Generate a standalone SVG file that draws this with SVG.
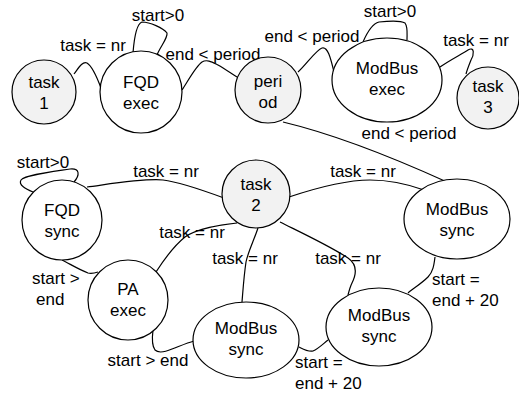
<svg xmlns="http://www.w3.org/2000/svg" width="519" height="396" viewBox="0 0 519 396">
<style>
  .n { stroke: #000; stroke-width: 1.2; fill: #fff; }
  .g { fill: #f2f2f2; }
  .e { fill: none; stroke: #000; stroke-width: 1.2; }
  text { font-family: "Liberation Sans", Arial, Helvetica, sans-serif; font-size: 17px; fill: #000; }
  .c { text-anchor: middle; }
</style>
<rect width="519" height="396" fill="#fff"/>
<g id="connectors">
  <path class="e" d="M74,74 C78,69 82,61 87,63 C92,66 98,80 101,88"/>
  <path class="e" d="M133,53 C134,40 136,24 142,22 C150,22 163,28 167,33 C168,38 160,47 157,55"/>
  <path class="e" d="M182,90 C188,81 196,66 202,62 C207,59 212,62 218,65 C225,69 232,74 237,77"/>
  <path class="e" d="M298,72 C306,65 316,50 322,48 C328,46 331,60 334,72"/>
  <path class="e" d="M363,42 C366,35 371,24 379,22 C388,21 400,20 405,23 C408,27 407,33 407,40"/>
  <path class="e" d="M440,67 C450,60 462,54 468,50 C475,46 474,55 471,60 C469,65 467,70 466,74"/>
  <path class="e" d="M283,122 Q350,138 447,182"/>
  <path class="e" d="M33,192 C26,189 18,185 21,180 C25,175 50,172 70,169 C80,168 80,175 74,182"/>
  <path class="e" d="M87,187 C110,184 145,178 163,180 C180,182 205,191 224,198"/>
  <path class="e" d="M289,197 C310,190 345,180 370,180 C390,180 410,185 424,190"/>
  <path class="e" d="M156,272 C165,258 175,245 185,237 C198,228 220,225 237,223"/>
  <path class="e" d="M258,228 C254,240 248,252 246,262 C244,275 243,290 242,302"/>
  <path class="e" d="M280,222 C300,232 330,246 348,258 C358,265 356,275 352,283 C350,287 349,291 348,295"/>
  <path class="e" d="M435,257 C434,265 433,272 428,277 C422,283 414,288 408,293"/>
  <path class="e" d="M62,260 C70,264 80,270 88,273 C92,274 95,273 98,272"/>
  <path class="e" d="M153,330 C152,338 152,346 155,350 C158,353 165,352 172,349 C180,346 187,343 194,341"/>
  <path class="e" d="M299,347 C303,349 308,352 313,351 C318,349 323,344 328,340"/>
  <text class="c" x="93" y="51">task = nr</text>
  <text class="c" x="158" y="21">start&gt;0</text>
  <text class="c" x="213" y="60">end &lt; period</text>
  <text class="c" x="312" y="42">end &lt; period</text>
  <text class="c" x="390" y="17">start&gt;0</text>
  <text class="c" x="476" y="46">task = nr</text>
  <text class="c" x="409" y="139">end &lt; period</text>
  <text class="c" x="43" y="168">start&gt;0</text>
  <text class="c" x="166" y="177">task = nr</text>
  <text class="c" x="363" y="177">task = nr</text>
  <text class="c" x="192" y="238">task = nr</text>
  <text class="c" x="245" y="264">task = nr</text>
  <text class="c" x="348" y="264">task = nr</text>
  <text x="432" y="285">start =</text>
  <text x="432" y="306">end + 20</text>
  <text x="32" y="284">start &gt;</text>
  <text x="36" y="305">end</text>
  <text class="c" x="148" y="366">start &gt; end</text>
  <text x="295" y="368">start =</text>
  <text x="295" y="389">end + 20</text>
</g>
<g id="task1">
  <circle class="n g" cx="44" cy="92" r="32"/>
  <text class="c" x="44" y="88">task</text>
  <text class="c" x="44" y="109">1</text>
</g>
<g id="fqd-exec">
  <circle class="n" cx="141" cy="92" r="41"/>
  <text class="c" x="141" y="88">FQD</text>
  <text class="c" x="141" y="109">exec</text>
</g>
<g id="period">
  <circle class="n g" cx="268" cy="90" r="33"/>
  <text class="c" x="268" y="87">peri</text>
  <text class="c" x="268" y="108">od</text>
</g>
<g id="modbus-exec">
  <ellipse class="n" cx="387" cy="80" rx="55" ry="42"/>
  <text class="c" x="387" y="74">ModBus</text>
  <text class="c" x="387" y="95">exec</text>
</g>
<g id="task3">
  <circle class="n g" cx="488" cy="98" r="31"/>
  <text class="c" x="488" y="92">task</text>
  <text class="c" x="488" y="113">3</text>
</g>
<g id="fqd-sync">
  <circle class="n" cx="62" cy="220" r="40"/>
  <text class="c" x="62" y="216">FQD</text>
  <text class="c" x="62" y="237">sync</text>
</g>
<g id="task2">
  <circle class="n g" cx="256" cy="194" r="34"/>
  <text class="c" x="256" y="190">task</text>
  <text class="c" x="256" y="211">2</text>
</g>
<g id="modbus-sync-1">
  <ellipse class="n" cx="457" cy="219" rx="53" ry="40"/>
  <text class="c" x="457" y="215">ModBus</text>
  <text class="c" x="457" y="236">sync</text>
</g>
<g id="pa-exec">
  <circle class="n" cx="128" cy="300" r="40"/>
  <text class="c" x="128" y="295">PA</text>
  <text class="c" x="128" y="316">exec</text>
</g>
<g id="modbus-sync-2">
  <ellipse class="n" cx="246" cy="340" rx="53" ry="38"/>
  <text class="c" x="246" y="334">ModBus</text>
  <text class="c" x="246" y="355">sync</text>
</g>
<g id="modbus-sync-3">
  <ellipse class="n" cx="379" cy="327" rx="53" ry="39"/>
  <text class="c" x="379" y="321">ModBus</text>
  <text class="c" x="379" y="342">sync</text>
</g>
</svg>
